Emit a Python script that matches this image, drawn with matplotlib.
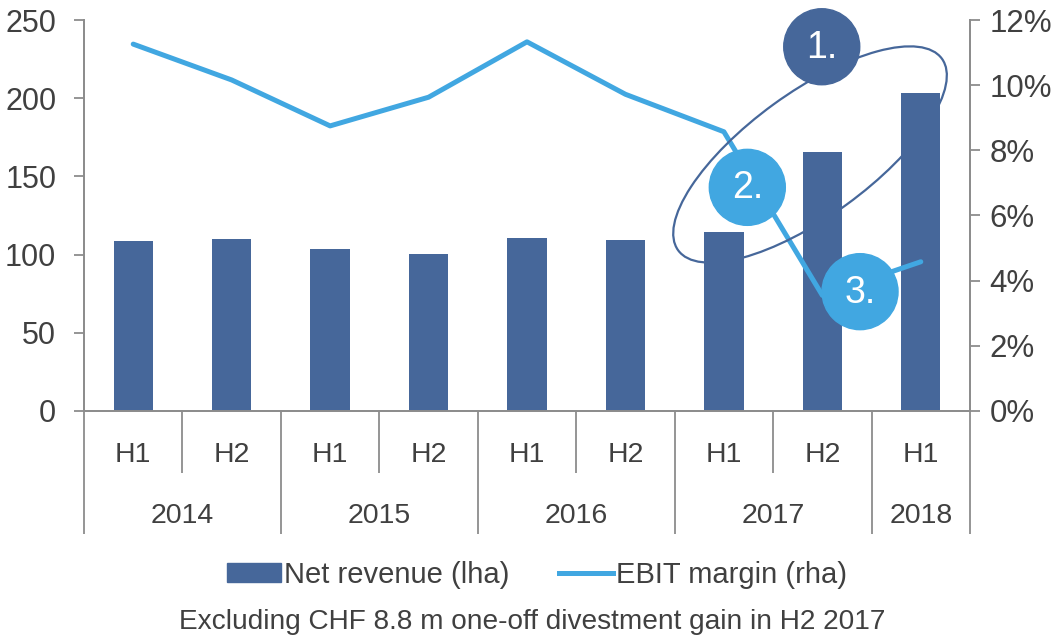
import matplotlib
matplotlib.use("Agg")
import matplotlib.pyplot as plt
from matplotlib.patches import Ellipse, Circle, Patch
from matplotlib.lines import Line2D
from matplotlib.transforms import ScaledTranslation, blended_transform_factory

plt.rcParams['font.family'] = ['Liberation Sans', 'DejaVu Sans']

# ---- data ----
halves = ["H1", "H2", "H1", "H2", "H1", "H2", "H1", "H2", "H1"]
years = ["2014", "2015", "2016", "2017", "2018"]
year_spans = [2, 2, 2, 2, 1]
net_revenue = [108.4, 109.8, 103.3, 100.7, 110.7, 109.2, 114.3, 165.6, 203.3]
ebit_margin = [11.26, 10.16, 8.75, 9.63, 11.33, 9.72, 8.57, 3.55, 4.58]
left_ticks = [0, 50, 100, 150, 200, 250]
right_ticks = [0, 2, 4, 6, 8, 10, 12]
legend_labels = ["Net revenue (lha)", "EBIT margin (rha)"]
footnote = "Excluding CHF 8.8 m one-off divestment gain in H2 2017"

BAR = "#46679a"
LINE = "#41a7e1"
AXC = "#8c8c8c"
TXT = "#404040"

W, H = 1061, 641
fig = plt.figure(figsize=(W / 100, H / 100), dpi=100)
ax = fig.add_axes([84 / W, 230 / H, (970 - 84) / W, (411 - 20) / H])
ax2 = ax.twinx()

x = list(range(len(net_revenue)))
ax.bar(x, net_revenue, width=0.4, color=BAR, zorder=2)
ax2.plot(x, ebit_margin, color=LINE, lw=3.6, solid_joinstyle='round',
         solid_capstyle='round', zorder=3)

ax.set_xlim(-0.5, len(x) - 0.5)
ax.set_ylim(0, 250)
ax2.set_ylim(0, 12)
ax.set_yticks(left_ticks)
ax.set_yticklabels([str(v) for v in left_ticks])
ax2.set_yticks(right_ticks)
ax2.set_yticklabels([f"{v}%" for v in right_ticks])

for a in (ax, ax2):
    a.spines['top'].set_visible(False)
    for s in ('left', 'right', 'bottom'):
        a.spines[s].set_color(AXC)
        a.spines[s].set_linewidth(1.3)
ax.tick_params(axis='y', length=7, width=1.3, color=AXC, labelsize=22,
               labelcolor=TXT, pad=13)
ax2.tick_params(axis='y', length=7, width=1.3, color=AXC, labelsize=22.5,
                labelcolor=TXT, pad=7)

# x axis: separators as ticks
bounds_major = [-0.5]
acc = -0.5
for s in year_spans:
    acc += s
    bounds_major.append(acc)
bounds_minor = [i + 0.5 for i in range(-1, len(x)) if (i + 0.5) not in bounds_major]
ax.set_xticks(bounds_major)
ax.set_xticks(bounds_minor, minor=True)
ax.set_xticklabels([])
ax.tick_params(axis='x', which='major', length=88.5, width=1.3, color=AXC)
ax.tick_params(axis='x', which='minor', length=44.5, width=1.3, color=AXC)
ax2.tick_params(axis='x', which='both', length=0)

bt = blended_transform_factory(ax.transData, ax.transAxes)
for i, h in enumerate(halves):
    ax.text(i, -44 / 391, h, transform=bt, ha='center', va='center',
            fontsize=20.5, color=TXT)
start = -0.5
for yname, s in zip(years, year_spans):
    ax.text(start + s / 2, -105 / 391, yname, transform=bt, ha='center',
            va='center', fontsize=20.5, color=TXT)
    start += s

# annotations (ellipse and numbered badges), positioned in data space
def offs(xd, yd):
    return fig.dpi_scale_trans + ScaledTranslation(xd, yd, ax.transData)

ell = Ellipse((0, 0), 3.26, 1.24, angle=36, fill=False, edgecolor=BAR, lw=1.6,
              transform=offs(6.875, 164.0), zorder=5, clip_on=False)
ax2.add_patch(ell)

badges = [("1.", 6.994, 232.9, BAR), ("2.", 6.238, 143.0, LINE), ("3.", 7.383, 76.3, LINE)]
for lab, bx, by, col in badges:
    ax2.add_patch(Circle((0, 0), 0.38, color=col, transform=offs(bx, by),
                         zorder=6, clip_on=False))
    ax2.text(0, -0.01, lab, transform=offs(bx, by), ha='center', va='center',
             color='white', fontsize=27, zorder=7)

handles = [Patch(facecolor=BAR, edgecolor=BAR),
           Line2D([0], [0], color=LINE, lw=3.6)]
fig.legend(handles, legend_labels, loc='center', bbox_to_anchor=(537 / W, 1 - 575 / H),
           ncol=2, frameon=False, fontsize=21, handlelength=1.85, handleheight=0.65,
           handletextpad=0.1, columnspacing=1.7, labelcolor=TXT)
fig.text(532 / W, 1 - 622 / H, footnote, ha='center', va='center', fontsize=20.2,
         color=TXT)

fig.savefig("out.png", dpi=100)
